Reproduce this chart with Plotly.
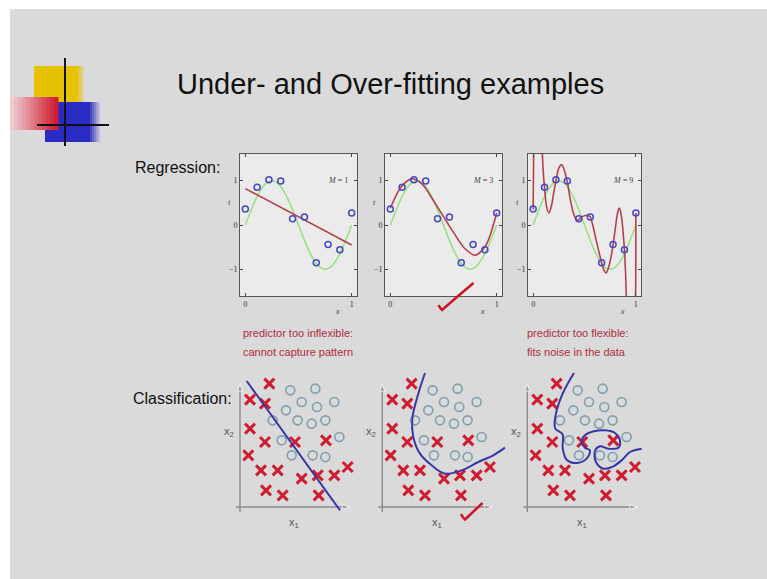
import plotly.graph_objects as go

W, H = 767, 579

# ---------------- data ----------------
# regression (Bishop-style polynomial fits)
x_pts = [0.0, 0.111, 0.222, 0.333, 0.444, 0.556, 0.667, 0.778, 0.889, 1.0]
t_pts = [0.36, 0.85, 1.02, 0.99, 0.14, 0.18, -0.85, -0.44, -0.56, 0.27]

x_true = [0.0, 0.05, 0.1, 0.15, 0.2, 0.25, 0.3, 0.35, 0.4, 0.45, 0.5,
          0.55, 0.6, 0.65, 0.7, 0.75, 0.8, 0.85, 0.9, 0.95, 1.0]
t_true = [0.0, 0.31, 0.59, 0.81, 0.95, 1.0, 0.95, 0.81, 0.59, 0.31, 0.0,
          -0.31, -0.59, -0.81, -0.95, -1.0, -0.95, -0.81, -0.59, -0.31, 0.0]

x_m1 = [0.0, 1.0]
y_m1 = [0.82, -0.45]

x_m3 = [0.0, 0.1, 0.2, 0.3, 0.4, 0.5, 0.6, 0.7, 0.8, 0.9, 1.0]
y_m3 = [0.38, 0.85, 1.04, 0.92, 0.57, 0.19, -0.19, -0.53, -0.68, -0.45, 0.27]

x_m9 = [0.0, 0.005, 0.01, 0.03, 0.06, 0.08, 0.09, 0.1, 0.111, 0.13, 0.154, 0.18,
        0.2, 0.222, 0.25, 0.279, 0.305, 0.333, 0.36, 0.39, 0.42, 0.444, 0.47,
        0.5, 0.53, 0.556, 0.58, 0.61, 0.64, 0.667, 0.69, 0.71, 0.735, 0.76,
        0.778, 0.8, 0.82, 0.84, 0.86, 0.875, 0.889, 0.9, 0.907, 0.92, 0.95,
        0.98, 0.99, 0.997, 1.0]
y_m9 = [0.35, 1.6, 2.5, 4.0, 4.0, 2.5, 1.6, 1.15, 0.85, 0.42, 0.27, 0.45,
        0.72, 1.0, 1.28, 1.36, 1.22, 0.97, 0.6, 0.28, 0.12, 0.12, 0.18,
        0.21, 0.22, 0.18, 0.0, -0.3, -0.6, -0.85, -1.02, -1.08, -0.95, -0.7,
        -0.44, -0.08, 0.25, 0.38, 0.2, -0.15, -0.56, -1.1, -1.6, -2.5, -3.5,
        -3.0, -2.0, -1.6, 0.27]

reg_labels = ["<i>M</i> = 1", "<i>M</i> = 3", "<i>M</i> = 9"]

# classification (units: feature space, origin at axes crossing)
cross_x1 = [88, 30, 75, 30, 75, 165, 258, 25, 63, 113, 185, 233, 283, 323, 78, 128, 236]
cross_x2 = [370, 322, 310, 235, 195, 195, 200, 155, 110, 110, 85, 95, 95, 120, 50, 35, 35]
circ_x1 = [151, 226, 185, 231, 283, 138, 98, 173, 215, 256, 298, 125, 155, 218, 256]
circ_x2 = [350, 355, 315, 300, 315, 290, 260, 260, 250, 260, 210, 200, 155, 155, 150]

bound1_x1 = [20, 300]
bound1_x2 = [378, -10]

bound2_x1 = [128, 108, 90, 93, 113, 148, 188, 238, 288, 333, 368]
bound2_x2 = [402, 340, 265, 210, 160, 125, 100, 110, 135, 155, 178]

bound3_x1 = [140, 106, 84, 84, 106, 106, 118, 148, 178, 188, 173, 163, 173, 200,
             233, 263, 278, 273, 243, 218, 203, 206, 228, 258, 283, 308, 343]
bound3_x2 = [402, 340, 270, 235, 218, 178, 142, 132, 145, 170, 178, 195, 215, 227,
             230, 222, 200, 178, 175, 182, 168, 135, 115, 122, 140, 165, 175]

axis_x1 = [-12, 330]
axis_x2 = [-15, 370]

# ---------------- helpers ----------------
def dx(a, b):
    return [a / W, b / W]


def dy(top, bottom):
    return [1 - bottom / H, 1 - top / H]


fig = go.Figure()

SERIF = "Liberation Serif, Times New Roman, serif"
SANS = "Liberation Sans, Arial, sans-serif"

GREEN = "#93e27c"
RED = "#b5404c"
PTS = "#4646c6"

reg_dom = [(240, 357), (385, 502), (528, 641)]
reg_fits = [(x_m1, y_m1, "linear"), (x_m3, y_m3, "spline"), (x_m9, y_m9, "spline")]

annotations = []
shapes = []
layout = {}

for i in range(3):
    n = i + 1
    xa = "x" if n == 1 else f"x{n}"
    ya = "y" if n == 1 else f"y{n}"
    fx, fy, shp = reg_fits[i]
    fig.add_trace(go.Scatter(x=x_true, y=t_true, mode="lines", xaxis=xa, yaxis=ya,
                             line=dict(color=GREEN, width=1.5, shape="spline"),
                             hoverinfo="skip", showlegend=False))
    fig.add_trace(go.Scatter(x=fx, y=fy, mode="lines", xaxis=xa, yaxis=ya,
                             line=dict(color=RED, width=1.6, shape=shp, smoothing=0.8),
                             hoverinfo="skip", showlegend=False, cliponaxis=True))
    fig.add_trace(go.Scatter(x=x_pts, y=t_pts, mode="markers", xaxis=xa, yaxis=ya,
                             marker=dict(symbol="circle-open", size=6, color=PTS,
                                         line=dict(width=1.5, color=PTS)),
                             hoverinfo="skip", showlegend=False))
    a, b = reg_dom[i]
    layout[f"xaxis{'' if n == 1 else n}"] = dict(
        domain=dx(a, b), range=[-0.05, 1.05], anchor=ya, tickvals=[0, 1],
        ticks="inside", ticklen=3, mirror="ticks", showline=True, linecolor="#555",
        linewidth=1, showgrid=False, zeroline=False, fixedrange=True,
        tickfont=dict(family=SERIF, size=8, color="#333"))
    layout[f"yaxis{'' if n == 1 else n}"] = dict(
        domain=dy(154, 296), range=[-1.6, 1.6], anchor=xa, tickvals=[-1, 0, 1],
        ticks="inside", ticklen=3, mirror="ticks", showline=True, linecolor="#555",
        linewidth=1, showgrid=False, zeroline=False, fixedrange=True,
        tickfont=dict(family=SERIF, size=8, color="#333"))
    shapes.append(dict(type="rect", xref=f"{xa} domain", yref=f"{ya} domain",
                       x0=0, x1=1, y0=0, y1=1, fillcolor="#ebebeb",
                       line=dict(width=0), layer="below"))
    annotations.append(dict(text=reg_labels[i], xref=xa, yref=ya, x=0.87, y=1.0,
                            showarrow=False, font=dict(family=SERIF, size=8, color="#444")))
    annotations.append(dict(text="<i>t</i>", xref=f"{xa} domain", yref=ya, x=-0.06, y=0.5,
                            showarrow=False, xanchor="right",
                            font=dict(family=SERIF, size=8, color="#444")))
    annotations.append(dict(text="<i>x</i>", xref=xa, yref=f"{ya} domain", x=0.87, y=-0.06,
                            showarrow=False, yanchor="top",
                            font=dict(family=SERIF, size=8, color="#444")))

# classification panels
cls_origin = [240, 382.3, 527.3]
bounds = [(bound1_x1, bound1_x2, "linear"), (bound2_x1, bound2_x2, "spline"),
          (bound3_x1, bound3_x2, "spline")]
BLUE = "#3636a8"
XRED = "#d01c30"
CIRC = "#7d9fb0"
AX = "#8a8a8a"
for i in range(3):
    n = i + 4
    xa, ya = f"x{n}", f"y{n}"
    bx, by, shp = bounds[i]
    # axis arrows
    fig.add_trace(go.Scatter(x=axis_x1, y=[0, 0], mode="lines+markers", xaxis=xa, yaxis=ya,
                             line=dict(color=AX, width=1.4),
                             marker=dict(symbol="arrow", angleref="previous", size=[0, 8],
                                         color=AX),
                             hoverinfo="skip", showlegend=False))
    fig.add_trace(go.Scatter(x=[0, 0], y=axis_x2, mode="lines+markers", xaxis=xa, yaxis=ya,
                             line=dict(color=AX, width=1.4),
                             marker=dict(symbol="arrow", angleref="previous", size=[0, 8],
                                         color=AX),
                             hoverinfo="skip", showlegend=False))
    fig.add_trace(go.Scatter(x=circ_x1, y=circ_x2, mode="markers", xaxis=xa, yaxis=ya,
                             marker=dict(symbol="circle-open", size=9, color=CIRC,
                                         line=dict(width=1.6, color=CIRC)),
                             hoverinfo="skip", showlegend=False))
    fig.add_trace(go.Scatter(x=cross_x1, y=cross_x2, mode="markers", xaxis=xa, yaxis=ya,
                             marker=dict(symbol="x-thin", size=10, color=XRED,
                                         line=dict(width=3, color=XRED)),
                             hoverinfo="skip", showlegend=False))
    fig.add_trace(go.Scatter(x=bx, y=by, mode="lines", xaxis=xa, yaxis=ya,
                             line=dict(color=BLUE, width=2, shape=shp, smoothing=1.0),
                             hoverinfo="skip", showlegend=False))
    ox = cls_origin[i]
    layout[f"xaxis{n}"] = dict(domain=dx(ox - 15, ox + 130), range=[-45, 390], anchor=ya,
                               visible=False, fixedrange=True)
    layout[f"yaxis{n}"] = dict(domain=dy(367, 527), range=[-60, 420], anchor=xa,
                               visible=False, fixedrange=True)
    annotations.append(dict(text="x<sub>1</sub>", xref=xa, yref=ya, x=163, y=-48,
                            showarrow=False, font=dict(family=SANS, size=11, color="#555")))
    annotations.append(dict(text="x<sub>2</sub>", xref=xa, yref=ya, x=-33, y=225,
                            showarrow=False, font=dict(family=SANS, size=11, color="#555")))

# overlay axis in pixel units for slide decorations and text
fig.add_trace(go.Scatter(x=[None], y=[None], xaxis="x7", yaxis="y7",
                         showlegend=False, hoverinfo="skip"))
layout["xaxis7"] = dict(domain=[0, 1], range=[0, W], anchor="y7", visible=False,
                        fixedrange=True)
layout["yaxis7"] = dict(domain=[0, 1], range=[H, 0], anchor="x7", visible=False,
                        fixedrange=True)

P = dict(xref="x7", yref="y7")
# white slide border
shapes.append(dict(type="rect", x0=0, x1=W, y0=0, y1=9, fillcolor="white",
                   line=dict(width=0), layer="below", **P))
shapes.append(dict(type="rect", x0=0, x1=10, y0=0, y1=H, fillcolor="white",
                   line=dict(width=0), layer="below", **P))


# logo squares
def grad_rect(x0, x1, y0, y1, c_from, c_to, steps):
    out = []
    for k in range(steps):
        f = k / (steps - 1)
        c = tuple(int(c_from[j] + (c_to[j] - c_from[j]) * f) for j in range(3))
        xa0 = x0 + (x1 - x0) * k / steps
        xa1 = x0 + (x1 - x0) * (k + 1) / steps + 0.5
        out.append(dict(type="rect", x0=xa0, x1=xa1, y0=y0, y1=y1,
                        fillcolor=f"rgb{c}", line=dict(width=0), **P))
    return out


shapes.append(dict(type="rect", x0=34, x1=76, y0=66, y1=102, fillcolor="#e6c200",
                   line=dict(width=0), **P))
shapes += grad_rect(76, 86, 66, 102, (230, 194, 0), (218, 218, 218), 6)
shapes.append(dict(type="rect", x0=45, x1=88, y0=102, y1=142, fillcolor="#2a2ac4",
                   line=dict(width=0), **P))
shapes += grad_rect(88, 102, 102, 142, (42, 42, 196), (218, 218, 218), 7)
shapes += grad_rect(10, 58, 97, 130, (238, 205, 210), (208, 30, 50), 12)
shapes.append(dict(type="line", x0=65, x1=65, y0=58, y1=146, line=dict(color="#111", width=2), **P))
shapes.append(dict(type="line", x0=37, x1=109, y0=125, y1=125, line=dict(color="#111", width=2), **P))

# hand-drawn check marks
CHECK = "#d01424"
shapes.append(dict(type="path", path="M 438.5,305 Q 440.5,309 442,310 Q 458,296 473.5,283",
                   line=dict(color=CHECK, width=2.5), **P))
shapes.append(dict(type="path", path="M 461,514 Q 463,518 465,519.5 Q 474,511 482.5,503",
                   line=dict(color=CHECK, width=2.5), **P))

# slide text
annotations.append(dict(text="Under- and Over-fitting examples", x=390, y=84, showarrow=False,
                        font=dict(family=SANS, size=29, color="#111"), **P))
annotations.append(dict(text="Regression:", x=133, y=167, xanchor="left", showarrow=False,
                        font=dict(family=SANS, size=16, color="#111"), **P))
annotations.append(dict(text="Classification:", x=131, y=398, xanchor="left", showarrow=False,
                        font=dict(family=SANS, size=16, color="#111"), **P))
TXTRED = "#b02a3c"
for txt, xx, yy in [("predictor too inflexible:", 241, 333),
                    ("cannot capture pattern", 241, 352),
                    ("predictor too flexible:", 525, 333),
                    ("fits noise in the data", 525, 352)]:
    annotations.append(dict(text=txt, x=xx, y=yy, xanchor="left", showarrow=False,
                            font=dict(family=SANS, size=11, color=TXTRED), **P))

fig.update_layout(width=W, height=H, margin=dict(l=0, r=0, t=0, b=0),
                  paper_bgcolor="#dadada", plot_bgcolor="rgba(0,0,0,0)",
                  showlegend=False, shapes=shapes, annotations=annotations, **layout)

fig.write_html("out.html", config={"displayModeBar": False},
               post_script=("document.body.style.margin='0';"
                            "document.body.style.overflow='hidden';"
                            "document.body.style.background='#dadada';"
                            "document.documentElement.style.background='#dadada';"))
